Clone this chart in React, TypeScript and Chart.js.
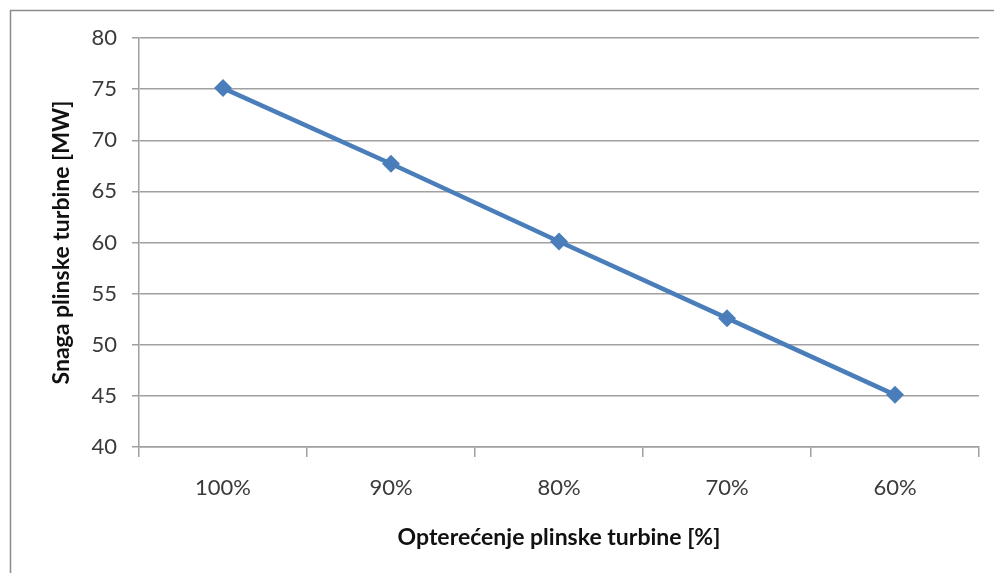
import React, { useEffect, useRef } from "react";
import { Chart, registerables } from "chart.js";

Chart.register(...registerables);

const categories = ["100%", "90%", "80%", "70%", "60%"];
const snaga = [75.1, 67.7, 60.1, 52.6, 45.1];
const yTitle = "Snaga plinske turbine [MW]";
const xTitle = "Opterećenje plinske turbine [%]";

const FONT = "Lato, 'Open Sans', sans-serif";

const framePlugin = {
  id: "frame",
  beforeDraw(chart: any) {
    const ctx = chart.ctx;
    ctx.save();
    ctx.fillStyle = "#ffffff";
    ctx.fillRect(0, 0, chart.width, chart.height);
    ctx.strokeStyle = "#8c8c8c";
    ctx.lineWidth = 1.5;
    ctx.beginPath();
    ctx.moveTo(10.5, chart.height + 5);
    ctx.lineTo(10.5, 10.5);
    ctx.lineTo(chart.width + 5, 10.5);
    ctx.stroke();
    ctx.restore();
  },
};

export default function App() {
  const ref = useRef<HTMLCanvasElement>(null);
  useEffect(() => {
    document.body.style.margin = "0";
    const chart = new Chart(ref.current!, {
      type: "line",
      data: {
        labels: categories,
        datasets: [
          {
            data: snaga,
            borderColor: "#4a7ebb",
            backgroundColor: "#4a7ebb",
            borderWidth: 4.5,
            pointStyle: "rectRot",
            pointRadius: 9,
            pointHoverRadius: 9,
            pointBorderWidth: 0,
            tension: 0,
          },
        ],
      },
      options: {
        animation: false,
        responsive: false,
        layout: { padding: { left: 44, right: 15, top: 38, bottom: 18 } },
        plugins: { legend: { display: false }, tooltip: { enabled: false } },
        scales: {
          x: {
            type: "category",
            offset: true,
            grid: {
              offset: true,
              drawOnChartArea: false,
              drawTicks: true,
              tickLength: 10,
              color: "#a0a0a0",
              lineWidth: 1.5,
            },
            border: { color: "#a0a0a0", width: 1.5 },
            ticks: {
              color: "#3a3a3a",
              font: { family: FONT, size: 22 },
              padding: 18,
              maxRotation: 0,
            },
            title: {
              display: true,
              text: xTitle,
              color: "#111",
              font: { family: FONT, size: 23, weight: "bold" },
            },
            afterFit(scale: any) {
              scale.height = 108;
            },
          },
          y: {
            min: 40,
            max: 80,
            ticks: {
              stepSize: 5,
              color: "#3a3a3a",
              font: { family: FONT, size: 22 },
              padding: 15,
            },
            grid: {
              color: "#a0a0a0",
              lineWidth: 1.5,
              tickLength: 7,
            },
            border: { color: "#a0a0a0", width: 1.5 },
            title: {
              display: true,
              text: yTitle,
              color: "#111",
              font: { family: FONT, size: 23, weight: "bold" },
            },
            afterFit(scale: any) {
              scale.width = 95;
            },
          },
        },
      },
      plugins: [framePlugin],
    } as any);
    return () => chart.destroy();
  }, []);
  return (
    <div style={{ width: 994, height: 573 }}>
      <canvas ref={ref} width={994} height={573} style={{ display: "block" }} />
    </div>
  );
}
